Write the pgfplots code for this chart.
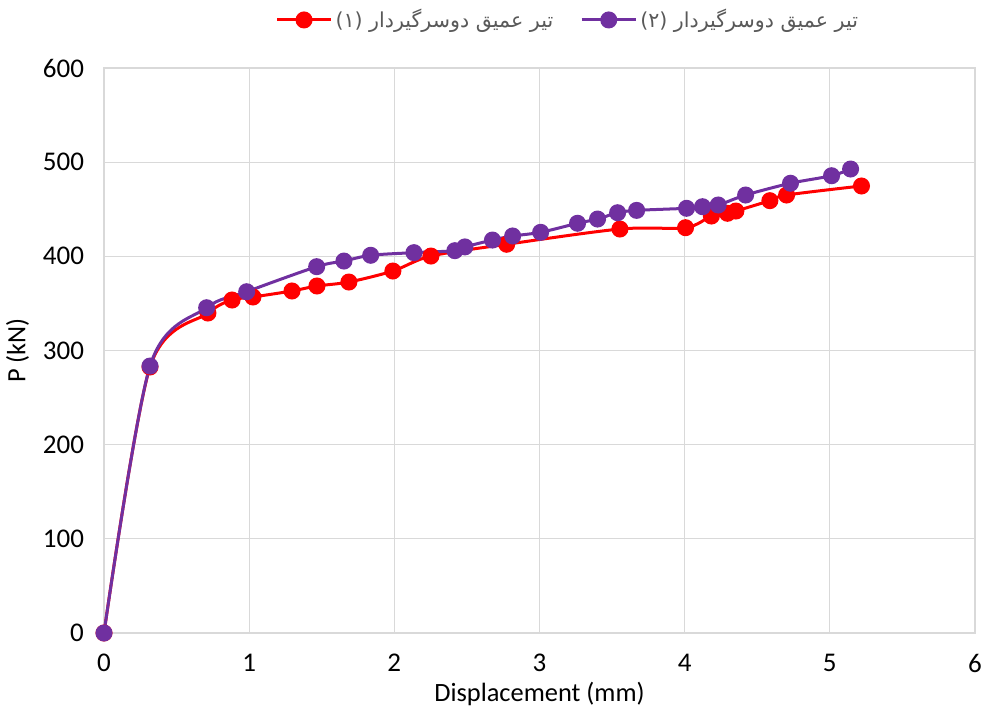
\documentclass[border=0pt]{standalone}
\usepackage{pgfplots}
\pgfplotsset{compat=1.18}
\usetikzlibrary{calc}
\usepackage{fontspec}
\setmainfont{Carlito}
\newfontfamily\arabicfont[Script=Arabic]{DejaVu Sans}
\TeXXeTstate=1
\definecolor{redS}{HTML}{FF0000}
\definecolor{purpS}{HTML}{7030A0}
\definecolor{gridc}{HTML}{D9D9D9}
\definecolor{txt}{HTML}{595959}
\begin{document}
\begin{tikzpicture}
\begin{axis}[
  scale only axis,
  width=435.5pt, height=282.5pt,
  xmin=0, xmax=6, ymin=0, ymax=600,
  xtick={0,1,...,6}, ytick={0,100,...,600},
  grid=major,
  major grid style={gridc, line width=0.6pt},
  axis line style={gridc, line width=0.6pt},
  major tick length=0pt,
  tick label style={font=\fontsize{13.5}{16}\selectfont, black},
  xticklabel style={yshift=-7pt},
  yticklabel style={xshift=-6.5pt},
  /pgf/number format/assume math mode=true,
  xlabel={Displacement (mm)},
  ylabel={P (kN)},
  xlabel style={font=\fontsize{13.2}{15}\selectfont, yshift=2pt},
  ylabel style={font=\fontsize{13.2}{15}\selectfont, yshift=0pt},
  legend columns=2,
  legend style={at={(axis description cs:0.533,1.085)}, anchor=center, draw=none, fill=none,
    font=\fontsize{10.3}{13}\selectfont, column sep=0pt, text=txt,
    nodes={inner xsep=1.5pt},
    /tikz/every even column/.append style={column sep=12pt}},
  legend image post style={line width=1.5pt},
  legend image code/.code={
    \draw[mark repeat=2,mark phase=2] plot coordinates {(0cm,0cm) (0.475cm,0cm) (0.95cm,0cm)};
  },
]
\addplot[redS, line width=1.5pt, smooth, mark=*, mark size=3.5pt, mark options={fill=redS, draw=redS}] coordinates {
(0,0) (0.317,282.5) (0.716,339.8) (0.882,353.6) (1.026,356.8) (1.295,363.2) (1.467,368.5)
(1.687,372.7) (1.990,384.4) (2.252,400.3) (2.774,412.8) (3.554,429.0) (4.006,430.4)
(4.184,442.8) (4.295,445.7) (4.353,448.1) (4.587,459.1) (4.702,465.1) (5.218,474.7)
};
\addlegendentry{\arabicfont\beginR تیر عمیق دوسرگیردار (۱)\endR}
\addplot[purpS, line width=1.5pt, smooth, mark=*, mark size=3.5pt, mark options={fill=purpS, draw=purpS}] coordinates {
(0,0) (0.317,283.5) (0.707,345.4) (0.983,362.4) (1.465,389.0) (1.653,395.0) (1.837,401.1)
(2.135,403.9) (2.417,406.0) (2.486,410.0) (2.676,417.3) (2.815,421.6) (3.008,425.5)
(3.262,435.1) (3.400,439.6) (3.538,446.3) (3.669,448.8) (4.013,451.0) (4.123,452.7)
(4.231,454.5) (4.420,465.1) (4.729,477.6) (5.012,485.6) (5.143,492.7)
};
\addlegendentry{\arabicfont\beginR تیر عمیق دوسرگیردار (۲)\endR}
\end{axis}
\pgfresetboundingbox
\path[use as bounding box] ($(current axis.south west)+(-52pt,-38.5pt)$) rectangle ($(current axis.north east)+(3pt,34pt)$);
\end{tikzpicture}
\end{document}
